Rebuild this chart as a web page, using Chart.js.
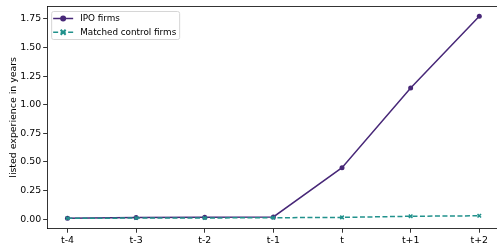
<!DOCTYPE html>
<html>
<head>
<meta charset="utf-8">
<script src="https://cdn.jsdelivr.net/npm/chart.js@4/dist/chart.umd.min.js"></script>
<style>
  html, body { margin: 0; padding: 0; background: #fff; overflow: hidden; }
  #wrap { width: 497px; height: 248px; }
</style>
</head>
<body>
<div id="wrap"><canvas id="myChart"></canvas></div>
<script>
const periods = ["t-4", "t-3", "t-2", "t-1", "t", "t+1", "t+2"];
const ipoFirms = [0.008, 0.014, 0.018, 0.02, 0.45, 1.145, 1.772];
const controlFirms = [0.008, 0.01, 0.011, 0.013, 0.016, 0.026, 0.03];
const yTicks = [0, 0.25, 0.5, 0.75, 1.0, 1.25, 1.5, 1.75];

const ipoColor = "#482878";
const ctlColor = "#21918c";
const font = "'DejaVu Sans', sans-serif";

function toPoints(vals) {
    return vals.map((v, i) => ({ x: i, y: v }));
}

// top spine and the legend box inside the plot
const framePlugin = {
    id: 'frame',
    afterDraw(chart) {
        const ctx = chart.ctx;
        const a = chart.chartArea;
        ctx.save();
        ctx.strokeStyle = "#000";
        ctx.lineWidth = 0.8;
        ctx.beginPath();
        ctx.moveTo(a.left, a.top + 0.5);
        ctx.lineTo(a.right, a.top + 0.5);
        ctx.stroke();

        const x0 = a.left + 4, y0 = a.top + 5, w = 128, h = 28;
        ctx.fillStyle = "rgba(255,255,255,0.8)";
        ctx.strokeStyle = "#d6d6d6";
        ctx.lineWidth = 1;
        ctx.beginPath();
        ctx.roundRect(x0 + 0.5, y0 + 0.5, w, h, 2);
        ctx.fill();
        ctx.stroke();

        const rows = [
            { label: "IPO firms", color: ipoColor, dash: [], marker: 'circle' },
            { label: "Matched control firms", color: ctlColor, dash: [5, 2.5], marker: 'x' }
        ];
        rows.forEach((r, i) => {
            const cy = y0 + 7.5 + i * 13.7;
            ctx.strokeStyle = r.color;
            ctx.lineWidth = 1.5;
            ctx.setLineDash(r.dash);
            ctx.beginPath();
            ctx.moveTo(x0 + 2, cy);
            ctx.lineTo(x0 + 22, cy);
            ctx.stroke();
            ctx.setLineDash([]);
            if (r.marker === 'circle') {
                ctx.fillStyle = r.color;
                ctx.beginPath();
                ctx.arc(x0 + 12, cy, 3, 0, Math.PI * 2);
                ctx.fill();
            } else {
                ctx.lineWidth = 2;
                ctx.beginPath();
                ctx.moveTo(x0 + 9.5, cy - 2.5); ctx.lineTo(x0 + 14.5, cy + 2.5);
                ctx.moveTo(x0 + 14.5, cy - 2.5); ctx.lineTo(x0 + 9.5, cy + 2.5);
                ctx.stroke();
            }
            ctx.fillStyle = "#000";
            ctx.font = "8.8px " + font;
            ctx.textBaseline = "middle";
            ctx.fillText(r.label, x0 + 29, cy + 0.5);
        });
        ctx.restore();
    }
};

new Chart("myChart", {
    type: "line",
    data: {
        datasets: [{
            label: "IPO firms",
            data: toPoints(ipoFirms),
            borderColor: ipoColor,
            backgroundColor: ipoColor,
            borderWidth: 1.5,
            pointStyle: 'circle',
            pointRadius: 2.5,
            pointBorderWidth: 0,
            order: 1
        }, {
            label: "Matched control firms",
            data: toPoints(controlFirms),
            borderColor: ctlColor,
            backgroundColor: ctlColor,
            borderWidth: 1.5,
            borderDash: [5, 2.5],
            pointStyle: 'crossRot',
            pointRadius: 2.5,
            pointBorderWidth: 1.5,
            order: 0
        }]
    },
    options: {
        responsive: true,
        maintainAspectRatio: false,
        animation: false,
        layout: { autoPadding: false, padding: { top: 6, right: 0, left: 8, bottom: 0 } },
        plugins: {
            legend: { display: false },
            tooltip: { enabled: false }
        },
        scales: {
            x: {
                type: 'linear',
                min: -0.296,
                max: 6.258,
                afterBuildTicks: s => { s.ticks = periods.map((_, i) => ({ value: i })); },
                ticks: {
                    callback: v => periods[v],
                    color: "#000",
                    font: { family: font, size: 9.4 },
                    padding: 2,
                    maxRotation: 0
                },
                grid: { drawOnChartArea: false, tickLength: 4, tickColor: "#000", tickWidth: 0.8 },
                border: { color: "#000", width: 0.8 }
            },
            y: {
                min: -0.083,
                max: 1.862,
                afterBuildTicks: s => { s.ticks = yTicks.map(v => ({ value: v })); },
                ticks: {
                    callback: v => v.toFixed(2),
                    color: "#000",
                    font: { family: font, size: 9.4, lineHeight: 0.5 },
                    padding: 2
                },
                grid: { drawOnChartArea: false, tickLength: 4, tickColor: "#000", tickWidth: 0.8 },
                border: { color: "#000", width: 0.8 },
                title: {
                    display: true,
                    text: "listed experience in years",
                    color: "#000",
                    font: { family: font, size: 9.4 },
                    padding: { top: 0, bottom: -1 }
                }
            }
        }
    },
    plugins: [framePlugin]
});
</script>
</body>
</html>
